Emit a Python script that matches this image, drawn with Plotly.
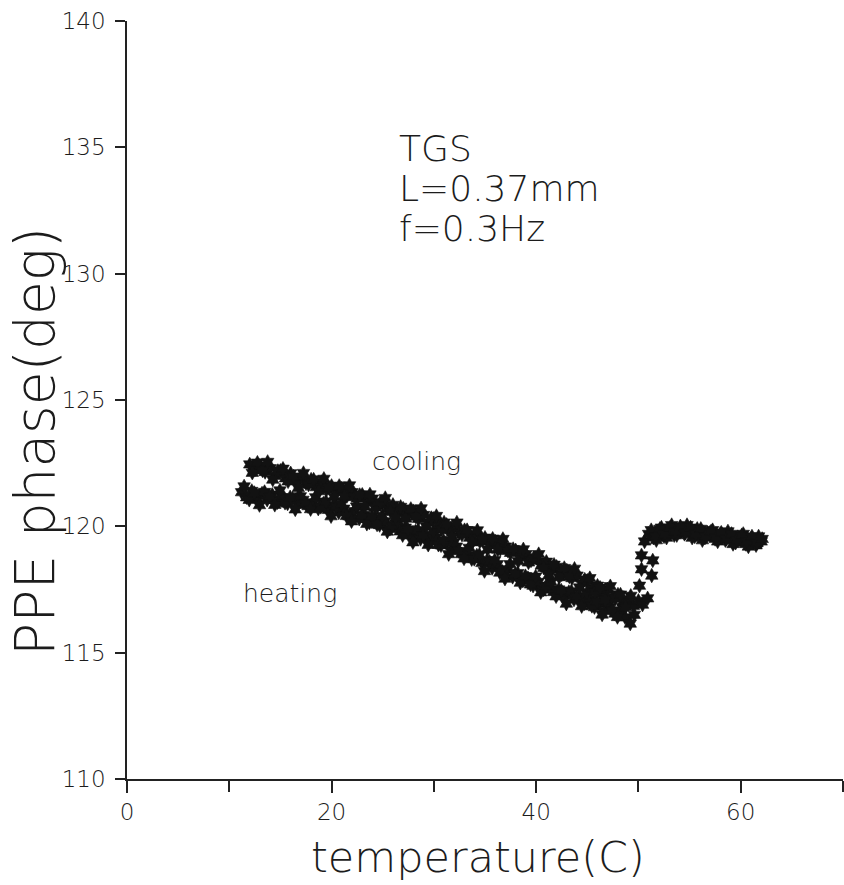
import plotly.graph_objects as go

# heating branch (lower curve at low T) - first set of readings
heat_T = [11.2, 11.7, 12.2, 12.7, 13.2, 13.7, 14.2, 14.7, 15.2, 15.7, 16.2, 16.7, 17.2, 17.7,
          18.2, 18.7, 19.2, 19.7, 20.2, 20.7, 21.2, 21.7, 22.2, 22.7, 23.2, 23.7, 24.2, 24.7,
          25.2, 25.7, 26.2, 26.7, 27.2, 27.7, 28.2, 28.7, 29.2, 29.7, 30.2, 30.7, 31.2, 31.7,
          32.2, 32.7, 33.2, 33.7, 34.2, 34.7, 35.2, 35.7, 36.2, 36.7, 37.2, 37.7, 38.2, 38.7,
          39.2, 39.7, 40.2, 40.7, 41.2, 41.7, 42.2, 42.7, 43.2, 43.7, 44.2, 44.7, 45.2, 45.7,
          46.2, 46.7, 47.2, 47.7, 48.2, 48.7, 49.2, 49.6, 50.1, 50.3, 50.3, 50.6, 51.0, 51.5,
          52.0, 52.5, 53.0, 53.5, 54.0, 54.5, 55.0, 55.5, 56.0, 56.5, 57.0, 57.5, 58.0, 58.5,
          59.0, 59.5, 60.0, 60.5, 61.0, 61.5, 62.0]
heat_phase = [121.35, 121.15, 121.40, 121.10, 121.30, 121.05, 121.25, 120.95, 121.15, 120.90,
              121.10, 120.85, 121.05, 120.80, 120.95, 120.70, 120.90, 120.65, 120.85, 120.55,
              120.70, 120.40, 120.60, 120.30, 120.45, 120.15, 120.30, 120.05, 120.20, 119.90,
              120.05, 119.80, 119.95, 119.65, 119.80, 119.50, 119.65, 119.40, 119.55, 119.25,
              119.35, 119.05, 119.20, 118.90, 119.00, 118.70, 118.85, 118.55, 118.65, 118.35,
              118.50, 118.20, 118.30, 118.00, 118.15, 117.85, 117.95, 117.65, 117.80, 117.50,
              117.65, 117.40, 117.50, 117.25, 117.40, 117.10, 117.25, 116.95, 117.10, 116.80,
              116.95, 116.65, 116.80, 116.55, 116.65, 116.40, 116.15, 116.50, 117.65, 118.30,
              118.85, 119.40, 119.70, 119.55, 119.80, 119.60, 119.85, 119.65, 119.90, 119.70,
              119.85, 119.60, 119.80, 119.55, 119.75, 119.50, 119.70, 119.45, 119.60, 119.35,
              119.55, 119.30, 119.50, 119.25, 119.40]

# heating branch - second set of readings
heat_T_b = [11.45, 11.95, 12.45, 12.95, 13.45, 13.95, 14.45, 14.95, 15.45, 15.95, 16.45, 16.95,
            17.45, 17.95, 18.45, 18.95, 19.45, 19.95, 20.45, 20.95, 21.45, 21.95, 22.45, 22.95,
            23.45, 23.95, 24.45, 24.95, 25.45, 25.95, 26.45, 26.95, 27.45, 27.95, 28.45, 28.95,
            29.45, 29.95, 30.45, 30.95, 31.45, 31.95, 32.45, 32.95, 33.45, 33.95, 34.45, 34.95,
            35.45, 35.95, 36.45, 36.95, 37.45, 37.95, 38.45, 38.95, 39.45, 39.95, 40.45, 40.95,
            41.45, 41.95, 42.45, 42.95, 43.45, 43.95, 44.45, 44.95, 45.45, 45.95, 46.45, 46.95,
            47.45, 47.95, 48.45,
            51.25, 51.75, 52.25, 52.75, 53.25, 53.75, 54.25, 54.75, 55.25, 55.75, 56.25, 56.75,
            57.25, 57.75, 58.25, 58.75, 59.25, 59.75, 60.25, 60.75, 61.25, 61.75]
heat_phase_b = [121.58, 121.05, 121.32, 120.84, 121.36, 121.18, 120.85, 121.42, 120.93, 121.15,
                120.67, 121.19, 120.91, 120.68, 121.15, 120.77, 120.98, 120.40, 120.79, 120.88,
                120.41, 120.20, 120.78, 120.42, 120.10, 120.39, 120.07, 120.41, 119.79, 120.03,
                120.21, 119.65, 119.88, 119.37, 119.85, 119.64, 119.27, 119.81, 119.27, 119.43,
                118.90, 119.36, 119.02, 118.73, 119.15, 118.71, 118.87, 118.23, 118.60, 118.66,
                118.17, 117.93, 118.50, 118.11, 117.77, 118.03, 117.70, 118.01, 117.39, 117.62,
                117.80, 117.23, 117.46, 116.94, 117.43, 117.21, 116.84, 117.37, 116.85, 117.03,
                116.51, 116.99, 116.67, 116.41, 116.80,
                119.85, 119.45, 119.95, 119.55, 120.05, 119.65, 119.85, 120.05, 119.55, 119.90,
                119.45, 119.75, 119.85, 119.40, 119.65, 119.80, 119.30, 119.55, 119.70, 119.20,
                119.45, 119.60]

# cooling branch (upper curve at low T) - first set of readings
cool_T = [12.0, 12.5, 13.0, 13.5, 14.0, 14.5, 15.0, 15.5, 16.0, 16.5, 17.0, 17.5, 18.0, 18.5,
          19.0, 19.5, 20.0, 20.5, 21.0, 21.5, 22.0, 22.5, 23.0, 23.5, 24.0, 24.5, 25.0, 25.5,
          26.0, 26.5, 27.0, 27.5, 28.0, 28.5, 29.0, 29.5, 30.0, 30.5, 31.0, 31.5, 32.0, 32.5,
          33.0, 33.5, 34.0, 34.5, 35.0, 35.5, 36.0, 36.5, 37.0, 37.5, 38.0, 38.5, 39.0, 39.5,
          40.0, 40.5, 41.0, 41.5, 42.0, 42.5, 43.0, 43.5, 44.0, 44.5, 45.0, 45.5, 46.0, 46.5,
          47.0, 47.5, 48.0, 48.5, 49.0, 49.5, 50.0, 50.4, 50.9, 51.3, 51.4, 51.7, 52.1, 52.6,
          53.1, 53.6, 54.1, 54.6, 55.1, 55.6, 56.1, 56.6, 57.1, 57.6, 58.1, 58.6, 59.1, 59.6,
          60.1, 60.6, 61.1, 61.6, 62.1]
cool_phase = [122.45, 122.25, 122.40, 122.15, 122.30, 122.00, 122.20, 121.90, 122.10, 121.80,
              121.95, 121.70, 121.85, 121.55, 121.75, 121.45, 121.60, 121.35, 121.50, 121.20,
              121.35, 121.10, 121.25, 120.95, 121.10, 120.80, 120.95, 120.70, 120.85, 120.55,
              120.70, 120.45, 120.60, 120.30, 120.45, 120.15, 120.30, 120.05, 120.15, 119.85,
              120.00, 119.75, 119.85, 119.55, 119.70, 119.40, 119.55, 119.25, 119.40, 119.10,
              119.20, 118.95, 119.05, 118.80, 118.90, 118.65, 118.75, 118.45, 118.60, 118.30,
              118.40, 118.10, 118.25, 117.95, 118.05, 117.75, 117.85, 117.55, 117.65, 117.35,
              117.50, 117.20, 117.30, 117.00, 117.10, 116.85, 117.05, 116.90, 117.15, 118.05,
              118.65, 119.60, 119.90, 119.70, 119.95, 119.80, 120.00, 119.75, 119.95, 119.70,
              119.90, 119.60, 119.80, 119.55, 119.75, 119.50, 119.70, 119.45, 119.65, 119.40,
              119.60, 119.35, 119.50]

# cooling branch - second set of readings
cool_T_b = [12.25, 12.75, 13.25, 13.75, 14.25, 14.75, 15.25, 15.75, 16.25, 16.75, 17.25, 17.75,
            18.25, 18.75, 19.25, 19.75, 20.25, 20.75, 21.25, 21.75, 22.25, 22.75, 23.25, 23.75,
            24.25, 24.75, 25.25, 25.75, 26.25, 26.75, 27.25, 27.75, 28.25, 28.75, 29.25, 29.75,
            30.25, 30.75, 31.25, 31.75, 32.25, 32.75, 33.25, 33.75, 34.25, 34.75, 35.25, 35.75,
            36.25, 36.75, 37.25, 37.75, 38.25, 38.75, 39.25, 39.75, 40.25, 40.75, 41.25, 41.75,
            42.25, 42.75, 43.25, 43.75, 44.25, 44.75, 45.25, 45.75, 46.25, 46.75, 47.25, 47.75,
            48.25, 48.75, 49.25]
cool_phase_b = [122.12, 122.52, 122.21, 122.55, 121.85, 122.19, 122.28, 121.78, 121.97, 121.52,
                122.11, 121.65, 121.85, 121.39, 121.88, 121.53, 121.17, 121.60, 121.19, 121.62,
                121.16, 121.24, 120.78, 121.26, 120.75, 120.93, 121.12, 120.60, 120.34, 120.77,
                120.31, 120.69, 120.38, 120.71, 120.00, 120.33, 120.41, 119.88, 120.06, 119.58,
                120.15, 119.67, 119.85, 119.37, 119.84, 119.46, 119.09, 119.51, 119.08, 119.50,
                119.03, 119.10, 118.62, 119.09, 118.57, 118.74, 118.90, 118.36, 118.07, 118.48,
                117.99, 118.35, 118.01, 118.32, 117.58, 117.89, 117.95, 117.41, 117.57, 117.08,
                117.63, 117.14, 117.30, 116.80, 117.25]

x_ticks = [0, 20, 40, 60]
y_ticks = [110, 115, 120, 125, 130, 135, 140]

FONT = "DejaVu Sans"
INK = "#1c1c1c"

fig = go.Figure()
series = [
    ("heating", heat_T + heat_T_b, heat_phase + heat_phase_b),
    ("cooling", cool_T + cool_T_b, cool_phase + cool_phase_b),
]
for nm, xs, ys in series:
    fig.add_trace(go.Scatter(
        x=xs, y=ys, mode="markers", name=nm,
        marker=dict(symbol="hexagram", size=11, color="#121212",
                    line=dict(width=0.6, color="#121212")),
        cliponaxis=False,
    ))

ann_font = dict(family=FONT, size=36, color=INK, weight=200)
annotations = [
    dict(x=26.4, y=134.97, text="TGS", xanchor="left", yanchor="middle"),
    dict(x=26.4, y=133.39, text="L=0.37mm", xanchor="left", yanchor="middle"),
    dict(x=26.4, y=131.8, text="f=0.3Hz", xanchor="left", yanchor="middle"),
]
for a in annotations:
    fig.add_annotation(xref="x", yref="y", showarrow=False, font=ann_font, **a)

small_font = dict(family=FONT, size=25, color=INK, weight=200)
fig.add_annotation(x=28.3, y=122.55, xref="x", yref="y", text="cooling",
                   showarrow=False, font=small_font, xanchor="center", yanchor="middle")
fig.add_annotation(x=15.9, y=117.35, xref="x", yref="y", text="heating",
                   showarrow=False, font=small_font, xanchor="center", yanchor="middle")

# axis titles
fig.add_annotation(x=0.49, y=-0.103, xref="paper", yref="paper", text="temperature(C)",
                   showarrow=False, font=dict(family=FONT, size=43, color=INK, weight=200),
                   xanchor="center", yanchor="middle")
fig.add_annotation(x=-0.1285, y=0.446, xref="paper", yref="paper", text="PPE phase(deg)",
                   showarrow=False, textangle=-90,
                   font=dict(family=FONT, size=55, color=INK, weight=200),
                   xanchor="center", yanchor="middle")

tick_font = dict(family=FONT, size=23, color=INK, weight=200)
fig.update_layout(
    width=844, height=885,
    margin=dict(l=127, r=1, t=21, b=106),
    paper_bgcolor="white", plot_bgcolor="white",
    showlegend=False,
    xaxis=dict(range=[0, 70], tickmode="array", tickvals=x_ticks,
               ticktext=[str(v) for v in x_ticks],
               ticks="outside", ticklen=12, tickwidth=1.5, tickcolor="#222",
               showline=True, linecolor="#222", linewidth=1.5,
               showgrid=False, zeroline=False, tickfont=tick_font,
               minor=dict(dtick=10, tick0=0, ticks="outside", ticklen=11,
                          tickwidth=1.5, tickcolor="#222", showgrid=False),
               ticklabelstandoff=0),
    yaxis=dict(range=[110, 140], tickmode="array", tickvals=y_ticks,
               ticktext=[str(v) for v in y_ticks],
               ticks="outside", ticklen=10, tickwidth=1.5, tickcolor="#222",
               showline=True, linecolor="#222", linewidth=1.5,
               showgrid=False, zeroline=False, tickfont=tick_font,
               ticklabelstandoff=5),
)

fig.write_html("out.html")
